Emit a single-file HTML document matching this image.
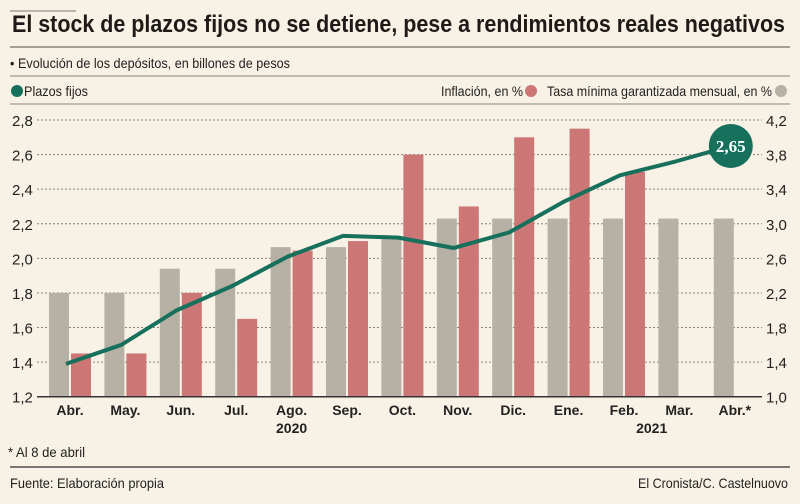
<!DOCTYPE html>
<html><head><meta charset="utf-8"><style>
html,body{margin:0;padding:0;background:#f8f1e5;}
svg{display:block;font-family:"Liberation Sans",sans-serif;}
</style></head><body>
<svg id="chart" width="800" height="504" viewBox="0 0 800 504">
<rect width="800" height="504" fill="#f8f1e5"/>
<line x1="10" y1="11" x2="76" y2="11" stroke="#777" stroke-width="1"/>
<text x="12" y="32" font-size="24" font-weight="bold" fill="#1e1a17" textLength="773" lengthAdjust="spacingAndGlyphs">El stock de plazos fijos no se detiene, pese a rendimientos reales negativos</text>
<line x1="10" y1="47" x2="790" y2="47" stroke="#8a8278" stroke-width="1.5"/>
<text x="10" y="68" font-size="14" fill="#222" textLength="280" lengthAdjust="spacingAndGlyphs">• Evolución de los depósitos, en billones de pesos</text>
<line x1="10" y1="76" x2="790" y2="76" stroke="#8a8278" stroke-width="1"/>
<g>
<circle cx="17" cy="91" r="6" fill="#16705c"/>
<text x="24" y="96" font-size="14" fill="#222" textLength="64" lengthAdjust="spacingAndGlyphs">Plazos fijos</text>
<text x="441" y="96" font-size="14" fill="#222" textLength="82" lengthAdjust="spacingAndGlyphs">Inflación, en %</text>
<circle cx="531" cy="91" r="6" fill="#cd7676"/>
<text x="547" y="96" font-size="14" fill="#222" textLength="225" lengthAdjust="spacingAndGlyphs">Tasa mínima garantizada mensual, en %</text>
<circle cx="781" cy="91" r="6" fill="#b7b0a4"/>
</g>
<line x1="10" y1="104" x2="790" y2="104" stroke="#8a8278" stroke-width="1"/>
<g id="grid"></g><g id="bars"></g><g id="lineg"></g><g id="labels"></g>
<text x="8" y="457" font-size="14" fill="#222" textLength="77" lengthAdjust="spacingAndGlyphs">* Al 8 de abril</text>
<line x1="10" y1="467" x2="790" y2="467" stroke="#777" stroke-width="2"/>
<text x="10" y="488" font-size="14" fill="#222" textLength="154" lengthAdjust="spacingAndGlyphs">Fuente: Elaboración propia</text>
<text x="788" y="488" font-size="14" fill="#222" text-anchor="end" textLength="150" lengthAdjust="spacingAndGlyphs">El Cronista/C. Castelnuovo</text>
</svg>
<script>
const categories=["Abr.","May.","Jun.","Jul.","Ago.","Sep.","Oct.","Nov.","Dic.","Ene.","Feb.","Mar.","Abr.*"];
const plazosFijos=[1.39,1.50,1.70,1.84,2.01,2.13,2.12,2.06,2.15,2.33,2.48,2.56,2.65];
const inflacion=[1.5,1.5,2.2,1.9,2.69,2.8,3.8,3.2,4.0,4.1,3.6,null,null];
const tasaMinima=[2.2,2.2,2.48,2.48,2.73,2.73,2.83,3.06,3.06,3.06,3.06,3.06,3.06];
const leftTicks=[1.2,1.4,1.6,1.8,2.0,2.2,2.4,2.6,2.8];
const rightTicks=[1.0,1.4,1.8,2.2,2.6,3.0,3.4,3.8,4.2];
const years=[{label:"2020",at:4},{label:"2021",at:10.5}];

const NS="http://www.w3.org/2000/svg";
const plotBase=396.7, plotTop=120;
const yL=v=>plotBase-(v-1.2)/(2.8-1.2)*(plotBase-plotTop);
const yR=v=>plotBase-(v-1.0)/(4.2-1.0)*(plotBase-plotTop);
const xC=i=>70+i*55.4;
function mk(tag,attrs,parent,text){const e=document.createElementNS(NS,tag);for(const k in attrs)e.setAttribute(k,attrs[k]);if(text!==undefined)e.textContent=text;parent.appendChild(e);return e;}
const grid=document.getElementById('grid'),bars=document.getElementById('bars'),lineg=document.getElementById('lineg'),labels=document.getElementById('labels');
leftTicks.forEach((t,i)=>{
  const y=yL(t);
  if(i>0){const l=mk('line',{x1:37,x2:762,y1:y,y2:y,stroke:'#8a8278','stroke-width':1,'stroke-dasharray':'2,2'},grid);
  
  }
  const tx=mk('text',{x:12,y:y+6,'font-size':15,fill:'#222'},labels,t.toFixed(1).replace('.',','));
  
  
});
rightTicks.forEach(t=>{
  const tx=mk('text',{x:766,y:yR(t)+6,'font-size':15,fill:'#222'},labels,t.toFixed(1).replace('.',','));
  
  
});
const ax=mk('line',{x1:37,x2:762,y1:plotBase,y2:plotBase,stroke:'#333','stroke-width':1.5},labels);


categories.forEach((c,i)=>{
  const cx=xC(i);
  if(tasaMinima[i]!=null){const r=mk('rect',{x:cx-21,y:yR(tasaMinima[i]),width:20,height:plotBase-yR(tasaMinima[i]),fill:'#b7b0a4'},bars);
  
  }
  if(inflacion[i]!=null){const r=mk('rect',{x:cx+1,y:yR(inflacion[i]),width:20,height:plotBase-yR(inflacion[i]),fill:'#cd7676'},bars);
  
  }
  const t=mk('text',{x:cx,y:415,'font-size':14,'font-weight':'bold',fill:'#222','text-anchor':'middle'},labels,c);
  
  
});
years.forEach(yr=>{
  const t=mk('text',{x:xC(yr.at),y:433,'font-size':14,'font-weight':'bold',fill:'#222','text-anchor':'middle'},labels,yr.label);
  
  
});
const pts=plazosFijos.map((v,i)=>(xC(i)-4)+','+yL(v)).join(' ');
const pl=mk('polyline',{points:pts,fill:'none',stroke:'#16705c','stroke-width':4,'stroke-linejoin':'round'},lineg);


const li=plazosFijos.length-1;
const c=mk('circle',{cx:xC(li)-4,cy:yL(plazosFijos[li]),r:22,fill:'#16705c'},lineg);


const lt=mk('text',{x:xC(li)-4,y:yL(plazosFijos[li])+6,'font-size':17,'font-weight':'bold',fill:'#fff','text-anchor':'middle','font-family':'Liberation Serif, serif'},lineg,plazosFijos[li].toFixed(2).replace('.',','));


</script>
</body></html>
